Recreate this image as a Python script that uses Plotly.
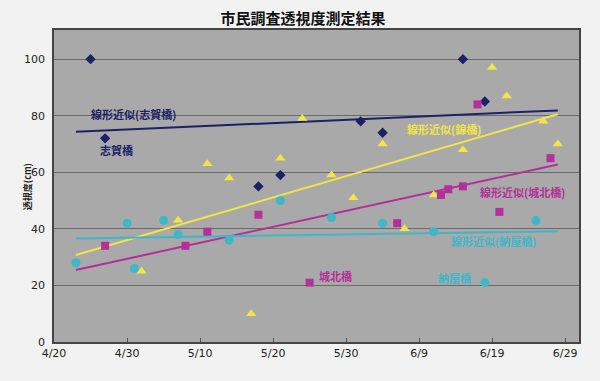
import numpy as np
import pandas as pd
import plotly.graph_objects as go

YEAR = "2009-"

shiga_dates = ["04-25", "04-27", "05-18", "05-21", "06-01", "06-04", "06-15", "06-18"]
shiga_vals = [100, 72, 55, 59, 78, 74, 100, 85]

nishiki_dates = ["05-02", "05-07", "05-11", "05-14", "05-17", "05-21", "05-24", "05-28", "05-31",
                 "06-04", "06-07", "06-11", "06-15", "06-19", "06-21", "06-26", "06-28"]
nishiki_vals = [25, 43, 63, 58, 10, 65, 79, 59, 51, 70, 40, 52, 68, 97, 87, 78, 70]

johoku_dates = ["04-27", "05-08", "05-11", "05-18", "05-25", "06-06", "06-12", "06-13", "06-15",
                "06-17", "06-20", "06-27"]
johoku_vals = [34, 34, 39, 45, 21, 42, 52, 54, 55, 84, 46, 65]

naya_dates = ["04-23", "04-30", "05-01", "05-05", "05-07", "05-14", "05-21", "05-28", "06-04",
              "06-11", "06-18", "06-25"]
naya_vals = [28, 42, 26, 43, 38, 36, 50, 44, 42, 39, 21, 43]

tick_dates = ["04-20", "04-30", "05-10", "05-20", "05-30", "06-09", "06-19", "06-29"]
tick_labels = ["4/20", "4/30", "5/10", "5/20", "5/30", "6/9", "6/19", "6/29"]

NAVY = "#1b2266"
YELLOW = "#f2e545"
PINK = "#b3309a"
CYAN = "#3fb7c9"

def to_dt(ds):
    return pd.to_datetime([YEAR + d for d in ds])

all_dt = to_dt(shiga_dates + nishiki_dates + johoku_dates + naya_dates)
x0, x1 = all_dt.min(), all_dt.max()
origin = pd.Timestamp(YEAR + "04-20")

fig = go.Figure()

series = [
    ("志賀橋", shiga_dates, shiga_vals, NAVY, "diamond", 8),
    ("錦橋", nishiki_dates, nishiki_vals, YELLOW, "triangle-up", 9),
    ("城北橋", johoku_dates, johoku_vals, PINK, "square", 8),
    ("納屋橋", naya_dates, naya_vals, CYAN, "circle", 9),
]

for name, ds, vs, col, sym, sz in series:
    dt = to_dt(ds)
    days = np.array([(d - origin).days for d in dt], dtype=float)
    k, b = np.polyfit(days, np.array(vs, dtype=float), 1)
    ends = np.array([(x0 - origin).days, (x1 - origin).days], dtype=float)
    fig.add_trace(go.Scatter(x=[x0, x1], y=k * ends + b, mode="lines",
                             line=dict(color=col, width=2), showlegend=False,
                             hoverinfo="skip"))

for name, ds, vs, col, sym, sz in series:
    fig.add_trace(go.Scatter(x=to_dt(ds), y=vs, mode="markers", name=name,
                             marker=dict(symbol=sym, size=sz, color=col, line=dict(width=0)),
                             showlegend=False))

FONT = "Noto Sans CJK JP"

def px_ann(text, px, py, color, size=11):
    fig.add_annotation(text=text, xref="paper", yref="paper",
                       x=(px - 54) / 525, y=(342 - py) / 312.5,
                       showarrow=False, xanchor="center", yanchor="middle",
                       font=dict(family=FONT, size=size, color=color, weight="bold"))

px_ann("線形近似(志賀橋)", 133.5, 114, NAVY)
px_ann("志賀橋", 116.5, 150, NAVY)
px_ann("線形近似(錦橋)", 443.5, 129, YELLOW)
px_ann("線形近似(城北橋)", 522, 192, PINK)
px_ann("城北橋", 335.5, 275.6, PINK)
px_ann("線形近似(納屋橋)", 493.5, 241, CYAN)
px_ann("納屋橋", 454, 278, CYAN)

fig.add_annotation(text="透視度(cm)", xref="paper", yref="paper",
                   x=(27 - 54) / 525, y=(342 - 187) / 312.5, textangle=-90,
                   showarrow=False, xanchor="center", yanchor="middle",
                   font=dict(family=FONT, size=9, color="#222222", weight="bold"))

fig.update_layout(
    width=600, height=381,
    margin=dict(l=54, r=21, t=30, b=39),
    paper_bgcolor="#f2f2f2",
    plot_bgcolor="#a9a9a9",
    title=dict(text="市民調査透視度測定結果", x=0.505, xanchor="center",
               y=1 - 19 / 381, yanchor="middle",
               font=dict(family=FONT, size=15, color="#111111", weight="bold")),
    font=dict(family=FONT, size=11, color="#222222"),
)

fig.update_xaxes(
    range=[origin, origin + pd.Timedelta(days=71.9)],
    tickvals=to_dt(tick_dates), ticktext=tick_labels,
    showgrid=False, zeroline=False,
    showline=True, linecolor="#444444", linewidth=1.5, mirror=True,
    ticks="inside", ticklen=4, tickcolor="#555555",
    tickfont=dict(family="DejaVu Sans", size=11, color="#222222"),
)
fig.update_yaxes(
    range=[0, 110.3], tickvals=[0, 20, 40, 60, 80, 100],
    showgrid=True, gridcolor="#6a6a6a", gridwidth=1, zeroline=False,
    showline=True, linecolor="#444444", linewidth=1.5, mirror=True,
    ticks="", ticklabelstandoff=5,
    tickfont=dict(family="DejaVu Sans", size=11, color="#222222"),
)

fig.write_html("out.html", config={"displayModeBar": False},
               post_script="document.body.style.margin='0';document.body.style.background='#f2f2f2';")
